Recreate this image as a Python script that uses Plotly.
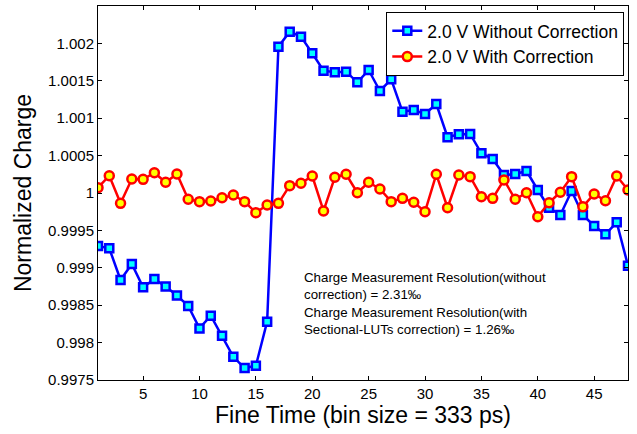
import plotly.graph_objects as go

fine_time = list(range(1, 49))

without_corr = [
    0.999291, 0.99926, 0.998837, 0.99905, 0.99874, 0.99885, 0.99875, 0.99863,
    0.99849, 0.99819, 0.99836, 0.99809, 0.99781, 0.99766, 0.99769, 0.99828,
    1.001956, 1.002157, 1.00209, 1.001868, 1.001635, 1.001614, 1.001622, 1.00148,
    1.001644, 1.001364, 1.00152, 1.001087, 1.00111, 1.001056, 1.00119, 1.000745,
    1.000785, 1.000789, 1.00053, 1.000455, 1.00024, 1.000254, 1.000294, 1.00004,
    0.999803, 0.999706, 1.000027, 0.999706, 0.999559, 0.999448, 0.999608, 0.999028,
]

with_corr = [
    1.000071, 1.000231, 0.999862, 1.000187, 1.000183, 1.000271, 1.000143, 1.000254,
    0.999916, 0.999884, 0.999893, 0.999937, 0.999973, 0.999884, 0.999737, 0.99984,
    0.999862, 1.000098, 1.00013, 1.000227, 0.99976, 1.00021, 1.00025, 1.000004,
    1.000143, 1.000053, 0.999884, 0.999929, 0.999876, 0.99975, 1.00025, 0.999803,
    1.00024, 1.000218, 0.99995, 0.999929, 1.000174, 0.999916, 1.000004, 0.999683,
    0.99987, 1.00001, 1.000218, 0.999817, 0.999987, 0.999897, 1.000227, 1.00004,
]

x_ticks = [5, 10, 15, 20, 25, 30, 35, 40, 45]
y_ticks = [0.9975, 0.998, 0.9985, 0.999, 0.9995, 1.0, 1.0005, 1.001, 1.0015, 1.002, 1.0025]
y_tick_text = ["0.9975", "0.998", "0.9985", "0.999", "0.9995", "1", "1.0005", "1.001", "1.0015", "1.002", "1.0025"]

series_names = ["2.0 V Without Correction", "2.0 V With Correction"]
annotation_lines = [
    "Charge Measurement Resolution(without",
    "correction) = 2.31‰",
    "Charge Measurement Resolution(with",
    "Sectional-LUTs correction) = 1.26‰",
]

FONT = "Liberation Sans, Arial, sans-serif"

fig = go.Figure()
fig.add_trace(go.Scatter(
    x=fine_time, y=without_corr, name=series_names[0], mode="lines+markers",
    line=dict(color="#0000FF", width=2.5),
    marker=dict(symbol="square", size=8, color="#00FFFF", line=dict(color="#0000FF", width=2.5)),
))
fig.add_trace(go.Scatter(
    x=fine_time, y=with_corr, name=series_names[1], mode="lines+markers",
    line=dict(color="#FF0000", width=2.5),
    marker=dict(symbol="circle", size=9, color="#FFFF00", line=dict(color="#FF0000", width=2.5)),
))

fig.add_annotation(
    x=0.385, y=0.109, xref="paper", yref="paper", xanchor="left", yanchor="bottom",
    text="<br>".join(annotation_lines), showarrow=False, align="left",
    font=dict(family=FONT, size=13.3, color="black"),
)

fig.update_layout(
    width=637, height=434,
    margin=dict(l=98, r=9, t=6, b=54),
    paper_bgcolor="white", plot_bgcolor="white",
    font=dict(family=FONT, color="black"),
    showlegend=True,
    legend=dict(
        x=0.993, y=0.984, xanchor="right", yanchor="top",
        bgcolor="white", bordercolor="black", borderwidth=1,
        font=dict(family=FONT, size=17.5), tracegroupgap=0,
    ),
)
fig.update_xaxes(
    range=[1, 48], tickvals=x_ticks, ticks="inside", ticklen=4, tickcolor="black",
    showline=True, linecolor="black", linewidth=1, mirror="ticks", showgrid=False, zeroline=False,
    tickfont=dict(family=FONT, size=15),
    title=dict(text="Fine Time (bin size = 333 ps)", font=dict(family=FONT, size=23), standoff=3),
)
fig.update_yaxes(
    range=[0.9975, 1.0025], tickvals=y_ticks, ticktext=y_tick_text, ticks="inside", ticklen=4,
    tickcolor="black", showline=True, linecolor="black", linewidth=1, mirror="ticks",
    showgrid=False, zeroline=False,
    tickfont=dict(family=FONT, size=15),
    title=dict(text="Normalized Charge", font=dict(family=FONT, size=23), standoff=10),
)

fig.write_html("out.html")
